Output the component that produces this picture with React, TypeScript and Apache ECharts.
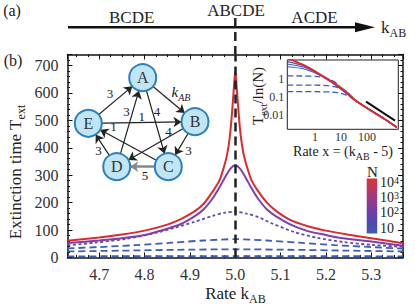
import React, { useEffect, useRef } from "react";
import * as echarts from "echarts";

const FONT = "'Liberation Serif', 'Times New Roman', serif";

// ---- panel (b) main curves: extinction time T_ext vs rate k_AB ----
const curveN1e4 = [
  [4.63, 61], [4.70, 73], [4.75, 84], [4.80, 98], [4.85, 120], [4.88, 140], [4.91, 168],
  [4.93, 195], [4.95, 240], [4.965, 280], [4.975, 330], [4.982, 375], [4.988, 440],
  [4.993, 530], [4.997, 620], [5.0, 680], [5.003, 625], [5.007, 535], [5.012, 445],
  [5.018, 380], [5.025, 335], [5.035, 285], [5.05, 243], [5.07, 200], [5.09, 170],
  [5.12, 138], [5.16, 114], [5.20, 98], [5.25, 83], [5.30, 70], [5.37, 52],
];
const curveN1e3 = [
  [4.63, 53], [4.70, 62], [4.75, 70], [4.80, 82], [4.85, 105], [4.88, 122], [4.91, 150],
  [4.93, 175], [4.95, 215], [4.965, 255], [4.98, 300], [4.99, 325], [5.0, 336], [5.01, 325],
  [5.02, 300], [5.035, 255], [5.05, 215], [5.07, 175], [5.09, 150], [5.12, 122], [5.16, 96],
  [5.20, 82], [5.23, 72], [5.30, 58], [5.37, 43],
];
const curveN1e2 = [
  [4.63, 44], [4.69, 54], [4.76, 68], [4.82, 88], [4.87, 110], [4.91, 130], [4.95, 152],
  [4.975, 163], [5.0, 167], [5.025, 160], [5.05, 148], [5.08, 125], [5.13, 93], [5.18, 72],
  [5.24, 56], [5.30, 46], [5.37, 39],
];
const curveDashA = [
  [4.63, 33], [4.70, 38], [4.78, 45], [4.86, 54], [4.93, 62], [5.0, 67], [5.07, 62],
  [5.14, 54], [5.22, 45], [5.30, 38], [5.37, 32],
];
const curveDashB = [[4.63, 22], [4.75, 25], [4.87, 28], [5.0, 30], [5.13, 28], [5.25, 25], [5.37, 22]];
const curveDashC = [[4.63, 4], [4.8, 5], [5.0, 5], [5.2, 5], [5.37, 4]];
const criticalRate = 5.0;

// ---- inset: T_ext/ln(N) vs x = k_AB - 5 (log-log) ----
const insetRed = [
  [0.086, 15], [0.127, 11.4], [0.355, 6.0], [1.34, 2.07], [4.4, 0.71], [10.6, 0.30],
  [17.5, 0.173], [34.5, 0.068], [130, 0.019], [424, 0.0066], [1390, 0.0021],
];
const insetSolid1 = [
  [0.086, 9.2], [0.355, 5.5], [1.34, 2.0], [4.4, 0.68], [10.6, 0.27], [17.5, 0.15],
  [34.5, 0.065], [130, 0.019], [424, 0.0066], [1390, 0.0021],
];
const insetSolid2 = [
  [0.086, 6.8], [0.355, 4.6], [1.34, 1.9], [4.4, 0.66], [10.6, 0.26], [17.5, 0.145],
  [34.5, 0.064], [130, 0.019], [424, 0.0066], [1390, 0.0021],
];
const insetSolid3 = [
  [0.086, 4.8], [0.355, 3.7], [1.34, 1.75], [4.4, 0.63], [10.6, 0.25], [17.5, 0.14],
  [34.5, 0.063], [130, 0.019], [424, 0.0066], [1390, 0.0021],
];
const insetDash1 = [
  [0.086, 1.47], [0.3, 1.46], [1, 1.4], [2, 1.25], [4, 0.9], [7, 0.55], [10, 0.32],
  [17.5, 0.165], [34.5, 0.066], [130, 0.019], [424, 0.0066], [1390, 0.0021],
];
const insetDash2 = [
  [0.086, 0.46], [1, 0.455], [2.8, 0.43], [6, 0.36], [10, 0.28], [15, 0.2], [22, 0.13],
  [34.5, 0.066], [130, 0.019], [424, 0.0066], [1390, 0.0021],
];
const insetDash3 = [
  [0.086, 0.197], [1, 0.196], [3.8, 0.19], [8, 0.17], [15, 0.13], [25, 0.095], [35, 0.066],
  [130, 0.019], [424, 0.0066], [1390, 0.0021],
];
const insetGuide = [[92, 0.055], [1200, 0.0048]];
const insetXLabels = [1, 10, 100];
const insetYLabels = ["1", "0.1", "0.01"];

// ---- colour bar / phases / network ----
const colorbarExps = ["4", "3", "2", ""];
const phaseLabels = ["BCDE", "ABCDE", "ACDE"];
const nodeNames = ["A", "B", "C", "D", "E"];
const networkLinks = [
  ["E", "A", "3"], ["A", "B", "k"], ["A", "C", "4"], ["D", "A", "3"], ["E", "B", "1"],
  ["B", "D", "4"], ["B", "C", "3"], ["C", "E", "1"], ["D", "E", "3"], ["C", "D", "5"],
];

// layout (pixel positions of diagram elements)
const NODE_POS: Record<string, [number, number]> = {
  A: [142.7, 77.7], B: [195, 121.7], C: [168.3, 166.7], D: [116.7, 166.7], E: [88.3, 123.3],
};
const LINK_LABEL_POS: [number, number][] = [
  [110, 93], [181, 90], [157, 111.5], [126.5, 111.5], [141.7, 116.5],
  [168.5, 131.5], [188.5, 150], [113.5, 126.5], [98.5, 150], [145, 175.5],
];
const PHASE_POS: [number, number][] = [[131.7, 17], [236, 10], [314.5, 17]];
const CB_LABEL_Y = [184, 199.3, 214, 228.3];

function isPow(v: number) {
  const l = Math.log10(v);
  return Math.abs(l - Math.round(l)) < 1e-6 ? Math.round(l) : null;
}

export default function App() {
  const ref = useRef<HTMLDivElement>(null);
  useEffect(() => {
    document.body.style.margin = "0";
    const chart = echarts.init(ref.current!, null, { renderer: "svg" });
    const axisCol = "#111";
    const mainX = {
      gridIndex: 0, type: "value", min: 4.63, max: 5.37, splitNumber: 7,
      axisLine: { onZero: false, lineStyle: { color: axisCol, width: 1.5 } },
      axisTick: { inside: true, length: 5, lineStyle: { color: axisCol } },
      minorTick: { show: true, splitNumber: 4, length: 2.5, lineStyle: { color: axisCol } },
      splitLine: { show: false },
    };
    const mainY = {
      gridIndex: 0, type: "value", min: 0, max: 740, splitNumber: 7,
      axisLine: { show: true, onZero: false, lineStyle: { color: axisCol, width: 1.5 } },
      axisTick: { show: true, inside: true, length: 5, lineStyle: { color: axisCol } },
      minorTick: { show: true, splitNumber: 5, length: 2.5, lineStyle: { color: axisCol } },
      splitLine: { show: false },
    };
    const insetTick = { show: true, inside: true, length: 3, lineStyle: { color: axisCol } };

    const mainLine = (data: number[][], color: string, width: number, type: any, z = 2) => ({
      type: "line", xAxisIndex: 0, yAxisIndex: 0, data, symbol: "none", smooth: 0.25, z,
      lineStyle: { color, width, type }, silent: true,
    });
    const insetLine = (data: number[][], color: string, width: number, type: any, z = 2) => ({
      type: "line", xAxisIndex: 2, yAxisIndex: 2, data, symbol: "none", smooth: 0.2, z,
      lineStyle: { color, width, type }, silent: true,
    });

    const txt = (x: number, y: number, text: string, size: number, extra: any = {}, el: any = {}) => ({
      type: "text", x, y, silent: true, ...el,
      style: {
        text, fill: "#222", fontFamily: FONT, fontSize: size,
        align: "center", verticalAlign: "middle", textAlign: "center", textVerticalAlign: "middle",
        ...extra,
      },
    });
    const subRich = (size: number, subSize: number, italic = false) => ({
      a: { fontFamily: FONT, fontSize: size, fill: "#222", color: "#222", fontStyle: italic ? "italic" : "normal", verticalAlign: "bottom", lineHeight: size + 4 },
      s: { fontFamily: FONT, fontSize: subSize, fill: "#222", color: "#222", fontStyle: italic ? "italic" : "normal", verticalAlign: "bottom", lineHeight: size + 4, padding: [0, 0, -3, 0] },
    });
    const supRich = (size: number, supSize: number) => ({
      a: { fontFamily: FONT, fontSize: size, fill: "#222", color: "#222", verticalAlign: "top", lineHeight: size + 4 },
      s: { fontFamily: FONT, fontSize: supSize, fill: "#222", color: "#222", verticalAlign: "top", lineHeight: size + 4 },
    });

    const xs = Object.values(NODE_POS).map((p) => p[0]);
    const ys = Object.values(NODE_POS).map((p) => p[1]);
    const gx0 = Math.min(...xs), gx1 = Math.max(...xs), gy0 = Math.min(...ys), gy1 = Math.max(...ys);

    const graphic: any[] = [
      txt(12, 10, "(a)", 16),
      txt(13, 60, "(b)", 16),
      ...phaseLabels.map((l, i) => txt(PHASE_POS[i][0], PHASE_POS[i][1], l, 17)),
      { type: "line", silent: true, shape: { x1: 68, y1: 27.3, x2: 360, y2: 27.3 }, style: { stroke: "#111", lineWidth: 2.5 } },
      { type: "polygon", silent: true, shape: { points: [[355, 22.3], [375, 27.3], [355, 32.3]] }, style: { fill: "#111" } },
      { type: "line", silent: true, shape: { x1: 235.3, y1: 18, x2: 235.3, y2: 54 }, style: { stroke: "#222", lineWidth: 2.5, lineDash: [9, 5] } },
      txt(381, 25, "{a|k}{s|AB}", 17, { align: "left", textAlign: "left", rich: subRich(17, 12) }),
      // y axis name
      txt(13, 172, "{a|Extinction time T}{s|ext}", 17, { rich: subRich(17, 12) }, { rotation: Math.PI / 2 }),
      // x axis name
      txt(235.5, 291, "{a|Rate k}{s|AB}", 17, { rich: subRich(17, 12) }),
      // inset axis names
      txt(256, 96, "{a|T}{s|ext}{a|/ln(N)}", 15, { rich: subRich(15, 10) }, { rotation: Math.PI / 2 }),
      txt(343, 149.5, "{a|Rate x = (k}{s|AB}{a| - 5)}", 14, { rich: subRich(14, 10) }),
      txt(377.5, 83, "∼ 1/x", 15),
      // colour bar
      {
        type: "rect", silent: true, shape: { x: 366.7, y: 178.5, width: 10.5, height: 55 },
        style: {
          fill: {
            type: "linear", x: 0, y: 0, x2: 0, y2: 1,
            colorStops: [
              { offset: 0, color: "#de3232" }, { offset: 0.3, color: "#a83a78" },
              { offset: 0.55, color: "#7c3aa6" }, { offset: 0.8, color: "#5048b0" }, { offset: 1, color: "#3d5cb9" },
            ],
          },
        },
      },
      txt(372.5, 171.5, "N", 15),
      ...colorbarExps.map((e, i) =>
        e
          ? txt(380, CB_LABEL_Y[i], `{a|10}{s|${e}}`, 14, { align: "left", textAlign: "left", rich: supRich(14, 10) })
          : txt(380, CB_LABEL_Y[i], "10", 14, { align: "left", textAlign: "left" })
      ),
      // link labels
      ...networkLinks.map((l, i) =>
        l[2] === "k"
          ? txt(LINK_LABEL_POS[i][0], LINK_LABEL_POS[i][1], "{a|k}{s|AB}", 15, { rich: subRich(15, 10, true) })
          : txt(LINK_LABEL_POS[i][0], LINK_LABEL_POS[i][1], l[2], 13)
      ),
    ];

    chart.setOption({
      animation: false,
      grid: [
        { left: 67.5, top: 54.5, width: 335.5, height: 203 },
        { left: 287.3, top: 60, width: 111, height: 69.3, show: true, backgroundColor: "#fff", borderColor: "#222", borderWidth: 1, z: 1 },
      ],
      xAxis: [
        {
          ...mainX, position: "bottom",
          axisLabel: {
            showMinLabel: false, showMaxLabel: false, margin: 9, fontFamily: FONT, fontSize: 16, color: "#333",
            formatter: (v: number) => v.toFixed(1),
          },
        },
        { ...mainX, position: "top", axisLabel: { show: false } },
        {
          gridIndex: 1, type: "log", min: 0.086, max: 1600, logBase: 10,
          axisLine: { show: false }, axisTick: insetTick, splitLine: { show: false },
          axisLabel: {
            margin: 2, fontFamily: FONT, fontSize: 12, color: "#333", showMinLabel: false, showMaxLabel: false,
            formatter: (v: number) => {
              const p = isPow(v);
              return p !== null && insetXLabels.includes(Math.pow(10, p)) ? String(Math.pow(10, p)) : "";
            },
          },
        },
      ],
      yAxis: [
        {
          ...mainY, position: "left",
          axisLabel: { showMaxLabel: false, margin: 9, fontFamily: FONT, fontSize: 16, color: "#333" },
        },
        { ...mainY, position: "right", axisLabel: { show: false } },
        {
          gridIndex: 1, type: "log", min: 0.0016, max: 11.3, logBase: 10,
          axisLine: { show: false }, axisTick: insetTick, splitLine: { show: false },
          axisLabel: {
            margin: 3, fontFamily: FONT, fontSize: 12, color: "#333", showMinLabel: false, showMaxLabel: false,
            formatter: (v: number) => {
              const p = isPow(v);
              return p !== null && p <= 0 && -p < insetYLabels.length ? insetYLabels[-p] : "";
            },
          },
        },
      ],
      series: [
        mainLine(curveDashC, "#3e5cba", 1.8, [7, 4]),
        mainLine(curveDashB, "#3e5cba", 1.8, [7, 4]),
        mainLine(curveDashA, "#3e5cba", 1.8, [7, 4]),
        mainLine(curveN1e2, "#5a4bb5", 1.8, [3, 2.5]),
        mainLine(curveN1e3, "#7b3fb0", 2, "solid"),
        {
          ...mainLine(curveN1e4, "#e0282e", 2, "solid", 3),
          markLine: {
            silent: true, symbol: "none", label: { show: false },
            lineStyle: { color: "#222", width: 2.5, type: [9, 5] },
            data: [{ xAxis: criticalRate }],
          },
        },
        insetLine(insetDash3, "#3e5cba", 1.3, [6, 3]),
        insetLine(insetDash2, "#3e5cba", 1.3, [6, 3]),
        insetLine(insetDash1, "#3e5cba", 1.3, [6, 3]),
        insetLine(insetSolid3, "#4060c0", 1.1, "solid"),
        insetLine(insetSolid2, "#4a55b8", 1.1, "solid"),
        insetLine(insetSolid1, "#5a4cb2", 1.1, "solid"),
        insetLine(insetRed, "#e0282e", 2, "solid", 3),
        {
          type: "line", xAxisIndex: 2, yAxisIndex: 2, data: insetGuide, symbol: "none", silent: true,
          lineStyle: { color: "#111", width: 2 }, z: 4,
        },
        {
          type: "graph", layout: "none", roam: false, silent: true,
          left: gx0, top: gy0, width: gx1 - gx0, height: gy1 - gy0,
          symbol: "circle", symbolSize: 27,
          itemStyle: { color: "#bfe5f6", borderColor: "#2f7fb8", borderWidth: 2 },
          label: { show: true, position: "inside", fontFamily: FONT, fontSize: 16, color: "#333" },
          edgeSymbol: ["none", "arrow"], edgeSymbolSize: [0, 8],
          lineStyle: { color: "#222", width: 1.2, opacity: 1, curveness: 0 },
          emphasis: { disabled: true },
          z: 5,
          data: nodeNames.map((n) => ({ name: n, x: NODE_POS[n][0], y: NODE_POS[n][1] })),
          links: networkLinks.map((l) => ({
            source: l[0], target: l[1],
            lineStyle: l[2] === "5"
              ? { color: "#888", width: 2.5, opacity: 1 }
              : { color: "#222", width: 1.2, opacity: 1 },
          })),
        },
      ],
      graphic,
    });
    return () => chart.dispose();
  }, []);
  return <div ref={ref} style={{ width: 415, height: 305 }} />;
}
